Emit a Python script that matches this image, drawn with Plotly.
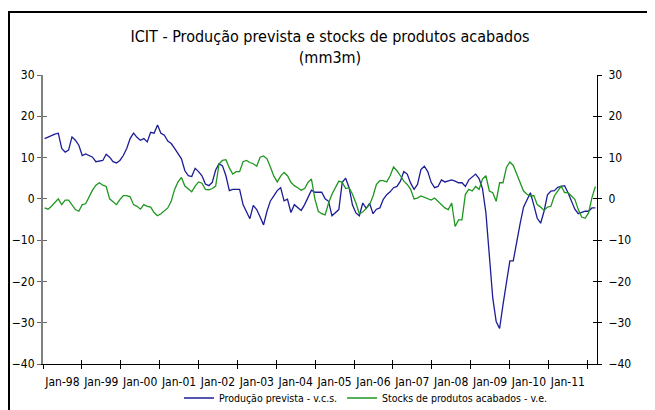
import numpy as np
import plotly.graph_objects as go

# monthly values (first value Jan-98)
producao = [
    14.6, 15.0, 15.4, 15.7, 15.9, 12.2, 11.3, 11.8, 15.0, 14.2, 13.0, 10.5,
    10.9, 10.5, 10.1, 9.0, 9.1, 9.3, 10.8, 10.1, 9.0, 8.7, 9.3, 10.5,
    12.2, 14.6, 15.9, 14.9, 14.2, 14.6, 13.8, 16.1, 15.9, 17.9, 15.9, 15.4,
    14.0, 13.4, 12.2, 10.9, 9.7, 6.8, 5.6, 5.4, 7.4, 6.6, 5.6, 3.6,
    3.2, 4.0, 7.0, 8.5, 8.0, 5.6, 2.0, 2.3, 2.3, 2.3, -1.4, -3.2,
    -4.8, -1.6, -2.6, -4.4, -6.3, -3.0, -0.5, 0.7, 2.0, 2.7, -0.5, -0.1,
    -3.3, -1.4, -2.0, -2.8, -1.4, 0.5, 2.1, 1.6, 1.6, 1.6, 0.0, -0.6,
    -4.1, -3.4, -2.6, 4.0, 5.0, 2.7, -1.5, -3.4, -4.1, -1.0, -2.3, -1.1,
    -3.6, -2.5, -2.2, -0.1, 1.0, 1.7, 2.7, 3.0, 4.3, 6.6, 6.0, 3.8,
    2.3, 3.5, 7.1, 7.9, 6.6, 4.0, 2.7, 3.0, 4.6, 4.1, 4.3, 4.6,
    4.3, 3.9, 3.9, 3.0, 4.6, 5.4, 6.0, 4.9, 2.5, -3.4, -14.1, -24.0,
    -29.7, -31.4, -25.6, -20.7, -15.0, -15.0, -10.0, -6.0, -2.0, -0.3, 1.5, -1.5,
    -4.7, -5.9, -3.0, 1.0, 1.9, 2.0, 2.8, 3.0, 3.2, 1.5, -0.6, -2.5,
    -3.6, -3.2, -3.0, -3.0, -2.2, -2.2,
]

stocks = [
    -2.2, -2.5, -1.8, -1.0, 0.0, -1.4, -0.3, -0.3, -1.4, -2.6, -3.0, -1.4,
    -1.2, 0.5, 2.1, 3.3, 3.9, 3.3, 3.0, 0.0, -0.6, -1.4, -0.2, 0.8,
    0.8, 0.5, -1.4, -1.8, -2.5, -1.4, -1.8, -2.0, -3.3, -4.1, -3.6, -3.0,
    -2.2, -0.6, 2.3, 4.1, 5.2, 3.1, 2.5, 1.7, 3.1, 4.1, 3.8, 2.3,
    2.2, 2.5, 3.1, 8.5, 9.3, 9.5, 7.5, 6.0, 6.6, 6.6, 9.0, 9.3,
    8.8, 8.5, 7.9, 10.1, 10.4, 9.7, 7.7, 5.5, 4.1, 5.5, 6.4, 5.6,
    4.0, 3.2, 2.7, 2.1, 2.5, 4.0, 4.8, 0.0, -3.0, -3.6, -3.9, -1.0,
    1.1, 2.7, 4.3, 4.0, 2.5, 2.7, 1.1, -1.0, -3.6, -3.2, -2.4, -1.4,
    0.7, 3.5, 4.4, 4.4, 4.1, 5.6, 7.7, 6.8, 5.6, 4.3, 3.5, 2.3,
    0.0, 0.2, 0.7, 0.3, 0.0, -0.3, 0.2, -0.6, -1.6, -2.2, -2.6, -1.0,
    -6.7, -5.1, -5.1, 1.1, 2.3, 1.9, 3.0, 2.3, 4.8, 5.6, 1.9, 1.5,
    -0.6, 3.9, 3.9, 7.6, 8.9, 8.1, 6.0, 4.0, 1.9, 1.1, 0.7, 0.8,
    -1.4, -2.0, -2.8, -2.0, -1.8, 0.7, 2.0, 3.1, 1.5, 1.5, 0.7, -0.1,
    -2.6, -4.4, -4.7, -3.4, 0.3, 3.0,
]

x_labels = ["Jan-98", "Jan-99", "Jan-00", "Jan-01", "Jan-02", "Jan-03", "Jan-04",
            "Jan-05", "Jan-06", "Jan-07", "Jan-08", "Jan-09", "Jan-10", "Jan-11"]
y_ticks = [-40, -30, -20, -10, 0, 10, 20, 30]
title_text = "ICIT - Produção prevista e stocks de produtos acabados<br>(mm3m)"
name_prod = "Produção prevista - v.c.s."
name_stock = "Stocks de produtos acabados - v.e."

# category axis (Excel style): one slot per month, ticks every 12 slots,
# labels centred inside each 12-month group
n_slots = 171
group = 12
tick_pos = list(range(0, n_slots, group))
label_pos = [group * k + group / 2 for k in range(len(x_labels))]
n = len(producao)
x_pos = 0.5 + np.arange(n) * (n_slots - 1) / (n - 1)

FONT = "Tahoma, 'DejaVu Sans Condensed', 'Liberation Sans', sans-serif"
x_range = [0, n_slots]
y_range = [-40, 30]

fig = go.Figure()
fig.add_trace(go.Scatter(x=x_pos, y=producao, mode="lines", name=name_prod,
                         line=dict(color="#1c1c96", width=1.3)))
fig.add_trace(go.Scatter(x=x_pos, y=stocks, mode="lines", name=name_stock,
                         line=dict(color="#1f961f", width=1.3)))
# empty helper traces so that the overlay axes (crossing tick marks) are drawn
fig.add_trace(go.Scatter(x=[], y=[], xaxis="x2", yaxis="y3", showlegend=False, hoverinfo="skip"))
fig.add_trace(go.Scatter(x=[], y=[], xaxis="x3", yaxis="y4", showlegend=False, hoverinfo="skip"))
fig.add_trace(go.Scatter(x=[], y=[], xaxis="x", yaxis="y2", showlegend=False, hoverinfo="skip"))

tick_font = dict(family=FONT, size=12, color="black")
fig.update_layout(
    width=655, height=410,
    margin=dict(l=35, r=66, t=67, b=54, autoexpand=False),
    paper_bgcolor="white", plot_bgcolor="white",
    font=dict(family=FONT, size=11, color="black"),
    title=dict(text=title_text, x=0.4916, xanchor="center", y=0.916, yanchor="middle",
               font=dict(family=FONT, size=16, color="black")),
    showlegend=True,
    legend=dict(orientation="h", x=0.583, xanchor="center", y=-0.1176, yanchor="middle",
                font=dict(family=FONT, size=10.5, color="black"),
                itemwidth=30, tracegroupgap=0, bgcolor="rgba(0,0,0,0)"),
    xaxis=dict(range=x_range, tickvals=label_pos, ticktext=x_labels, ticks="",
               showline=True, linecolor="black", linewidth=1, showgrid=False,
               zeroline=False, tickfont=tick_font, anchor="y", ticklabelstandoff=7),
    xaxis2=dict(range=x_range, tickvals=tick_pos, overlaying="x", ticks="outside",
                ticklen=4, tickcolor="black", showticklabels=False, showline=False,
                showgrid=False, zeroline=False, anchor="y3", side="bottom"),
    xaxis3=dict(range=x_range, tickvals=tick_pos, overlaying="x", ticks="inside",
                ticklen=4, tickcolor="black", showticklabels=False, showline=False,
                showgrid=False, zeroline=False, anchor="y4", side="bottom"),
    yaxis=dict(range=y_range, tickvals=y_ticks, ticks="outside", ticklen=4,
               tickcolor="#666666", showline=True, linecolor="#808080", linewidth=2,
               showgrid=False, zeroline=False, tickfont=tick_font, anchor="x",
               ticklabelstandoff=0),
    yaxis2=dict(range=y_range, tickvals=y_ticks, ticks="outside", ticklen=4,
                tickcolor="black", showline=True, linecolor="black", linewidth=1,
                showgrid=False, zeroline=False, tickfont=tick_font, overlaying="y",
                side="right", anchor="x", ticklabelstandoff=4),
    yaxis3=dict(range=y_range, tickvals=y_ticks, ticks="inside", ticklen=4,
                tickcolor="#666666", showline=False, showticklabels=False,
                showgrid=False, zeroline=False, overlaying="y", side="left", anchor="x2"),
    yaxis4=dict(range=y_range, tickvals=y_ticks, ticks="inside", ticklen=4,
                tickcolor="black", showline=False, showticklabels=False,
                showgrid=False, zeroline=False, overlaying="y", side="right", anchor="x3"),
)

# outer chart-area frame
pw, ph = 655 - 35 - 66, 410 - 67 - 54
fig.add_shape(type="rect", xref="paper", yref="paper",
              x0=(1 - 35) / pw, x1=(645 - 35) / pw,
              y0=(ph + 67 - 430) / ph, y1=(ph + 67 - 4) / ph,
              line=dict(color="black", width=2), fillcolor="rgba(0,0,0,0)", layer="above")

fig.write_html("out.html")
